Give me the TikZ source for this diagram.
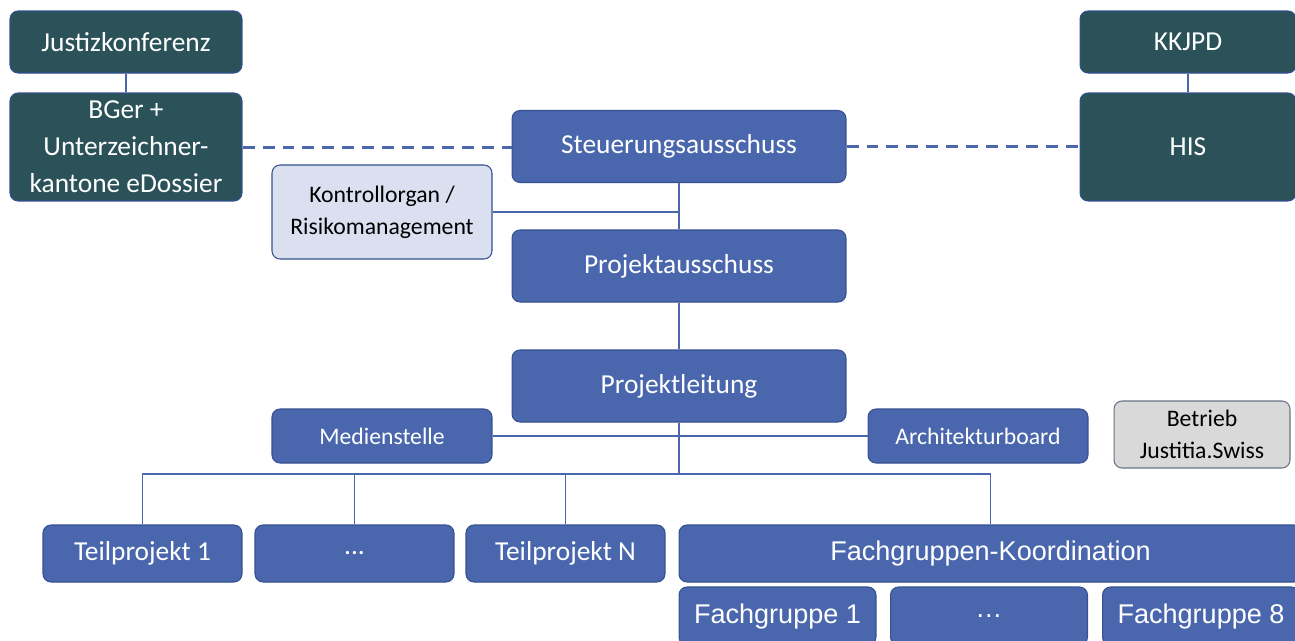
\documentclass[tikz,border=0pt]{standalone}
\usepackage{fontspec}
\setmainfont{Carlito}
\newfontfamily\arialfont{Liberation Sans}
\usepackage{tikz}
\usetikzlibrary{positioning}
\definecolor{darkteal}{HTML}{2B5259}
\definecolor{orgblue}{HTML}{4A67AE}
\definecolor{orgedge}{HTML}{34508F}
\definecolor{lightblue}{HTML}{DAE0F0}
\definecolor{lightgray}{HTML}{D9D9D9}
\newcommand{\bigtext}{\fontsize{15.6}{21}\selectfont}
\newcommand{\smalltext}{\fontsize{13.5}{18.2}\selectfont}
\newcommand{\fgtext}{\arialfont\fontsize{15.4}{18}\selectfont}
\tikzstyle{block} = [draw=orgedge, fill=orgblue, text=white,
	rounded corners=0.16cm, line width=0.6pt, align=center, inner sep=0pt]
\tikzstyle{board} = [block, fill=darkteal, minimum width=4.64cm, font=\bigtext]
\tikzstyle{main} = [block, minimum width=6.68cm, minimum height=1.44cm, font=\bigtext]
\tikzstyle{side} = [block, minimum width=4.4cm, minimum height=1.08cm, font=\smalltext]
\tikzstyle{sub} = [block, minimum width=3.98cm, minimum height=1.14cm, font=\bigtext]
\tikzstyle{fg} = [block, minimum width=3.94cm, minimum height=1.16cm, font=\fgtext]
\tikzstyle{link} = [draw=orgblue, line width=1.1pt]
\tikzstyle{dashlink} = [link, line width=1.7pt, dash pattern=on 0.24cm off 0.16cm]

\begin{document}
\begin{tikzpicture}[x=0.02cm, y=-0.02cm]
	\useasboundingbox (0,0) rectangle (1295,640);
	
	\node (just) [board, minimum height=1.24cm] at (126,42) {Justizkonferenz};
	\node (bger) [board, minimum height=2.16cm] at (126,147) {BGer +\\Unterzeichner-\\kantone eDossier};
	\node (kkjpd) [board, minimum width=4.32cm, minimum height=1.24cm] at (1188,42) {KKJPD};
	\node (his) [board, minimum width=4.32cm, minimum height=2.16cm] at (1188,147) {HIS};
	
	\node (steuer) [main] at (679,146.5) {Steuerungsausschuss};
	\node (kontroll) [block, fill=lightblue, text=black, minimum width=4.4cm,
		minimum height=1.88cm, font=\smalltext] at (382,212) {Kontrollorgan /\\Risikomanagement};
	\node (projaus) [main] at (679,266) {Projektausschuss};
	\node (projleit) [main] at (679,386) {Projektleitung};
	\node (medien) [side] at (382,436) {Medienstelle};
	\node (archi) [side] at (978,436) {Architekturboard};
	\node (betrieb) [block, fill=lightgray, draw=gray!70!orgedge, text=black,
		minimum width=3.52cm, minimum height=1.34cm, font=\smalltext] at (1202,434.5) {Betrieb\\Justitia.Swiss};
	
	\node (tp1) [sub] at (142.5,553.5) {Teilprojekt 1};
	\node (tpdots) [sub] at (354.5,553.5) {...};
	\node (tpn) [sub] at (565.5,553.5) {Teilprojekt N};
	\node (fgk) [block, minimum width=12.46cm, minimum height=1.14cm, font=\fgtext] at (990.5,553.5) {Fachgruppen-Koordination};
	\node (fg1) [fg] at (777.5,616) {Fachgruppe 1};
	\node (fgdots) [fg] at (989,616) {\dots};
	\node (fg8) [fg] at (1201,616) {Fachgruppe 8};
	
	\draw [link] (just) -- (bger);
	\draw [link] (kkjpd) -- (his);
	\draw [dashlink] (bger.east) -- (bger.east -| steuer.west);
	\draw [dashlink] (steuer.east) -- (steuer.east -| his.west);
	\draw [link] (steuer) -- (projaus);
	\draw [link] (kontroll.east) -- (kontroll.east -| steuer.south);
	\draw [link] (projaus) -- (projleit);
	\draw [link] (medien.east) -- (archi.west);
	
	\coordinate (bus) at (679,474);
	\draw [link] (projleit.south) -- (bus);
	\draw [link] (bus) -| (tp1.north);
	\draw [link] (bus) -| (tpdots.north);
	\draw [link] (bus) -| (tpn.north);
	\draw [link] (bus) -| (fgk.north);
\end{tikzpicture}
\end{document}
